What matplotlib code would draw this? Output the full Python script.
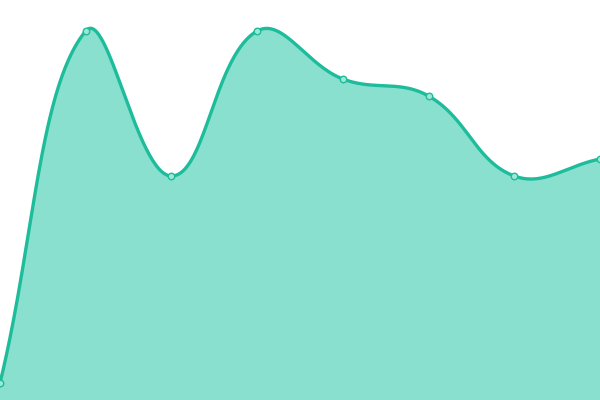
import numpy as np
import matplotlib.pyplot as plt

# Data values
values = [17, 369, 224, 369, 321, 304, 224, 241]
xs = np.arange(len(values))

line_color = "#1dbc9b"
fill_color = "#89e0cf"
tension = 0.4


def spline_path(ax, x, y, n=60):
    # chart.js style spline, computed in pixel space
    pts = ax.transData.transform(np.column_stack([x, y]))
    m = len(pts)
    cp_in = pts.copy()
    cp_out = pts.copy()
    for i in range(m):
        prev = pts[max(i - 1, 0)]
        nxt = pts[min(i + 1, m - 1)]
        p = pts[i]
        d01 = np.hypot(*(p - prev))
        d12 = np.hypot(*(nxt - p))
        s01 = d01 / (d01 + d12)
        s12 = d12 / (d01 + d12)
        cp_in[i] = p - tension * s01 * (nxt - prev)
        cp_out[i] = p + tension * s12 * (nxt - prev)
    t = np.linspace(0, 1, n)[:, None]
    segs = []
    for i in range(m - 1):
        p0, c1, c2, p1 = pts[i], cp_out[i], cp_in[i + 1], pts[i + 1]
        b = (1 - t) ** 3 * p0 + 3 * (1 - t) ** 2 * t * c1 + 3 * (1 - t) * t ** 2 * c2 + t ** 3 * p1
        segs.append(b)
    path = np.vstack(segs)
    back = ax.transData.inverted().transform(path)
    return back[:, 0], back[:, 1]


fig = plt.figure(figsize=(6, 4), dpi=100)
ax = fig.add_axes([0, 0, 1, 1])
ax.set_xlim(0, len(values) - 1)
ax.set_ylim(0, 400)
ax.axis("off")

sx, sy = spline_path(ax, xs, values)
ax.fill_between(sx, 0, sy, color=fill_color, lw=0)
ax.plot(sx, sy, color=line_color, lw=2.4, solid_capstyle="round")
ax.scatter(xs, values, s=22, facecolor="#9ee6d7", edgecolor=line_color,
           linewidth=1, zorder=3)

fig.savefig("out.png", dpi=100)
